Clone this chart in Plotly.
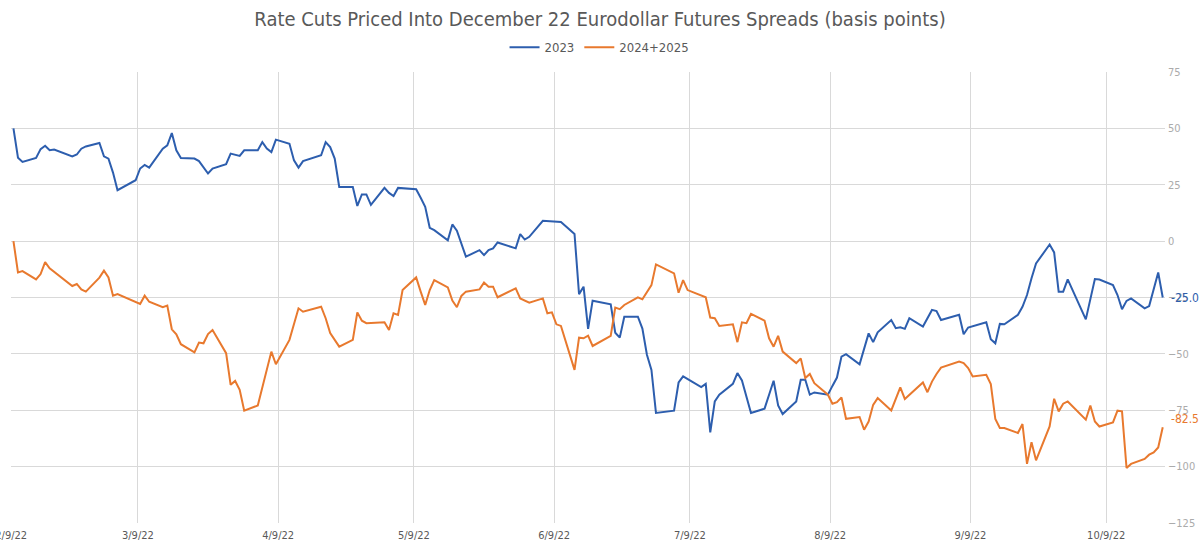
import pandas as pd
import plotly.graph_objects as go

# ---------------- data ----------------
dates_2023 = [
    "2022-02-09", "2022-02-10", "2022-02-11", "2022-02-14", "2022-02-15", "2022-02-16", "2022-02-17", "2022-02-18",
    "2022-02-22", "2022-02-23", "2022-02-24", "2022-02-25", "2022-02-28", "2022-03-01", "2022-03-02", "2022-03-03",
    "2022-03-04", "2022-03-08", "2022-03-09", "2022-03-10", "2022-03-11", "2022-03-14", "2022-03-15", "2022-03-16",
    "2022-03-17", "2022-03-18", "2022-03-21", "2022-03-22", "2022-03-24", "2022-03-25", "2022-03-28", "2022-03-29",
    "2022-03-31", "2022-04-01", "2022-04-04", "2022-04-05", "2022-04-06", "2022-04-07", "2022-04-08", "2022-04-11",
    "2022-04-12", "2022-04-13", "2022-04-14", "2022-04-18", "2022-04-19", "2022-04-20", "2022-04-21", "2022-04-22",
    "2022-04-25", "2022-04-26", "2022-04-27", "2022-04-28", "2022-04-29", "2022-05-02", "2022-05-03", "2022-05-04",
    "2022-05-05", "2022-05-09", "2022-05-10", "2022-05-11", "2022-05-12", "2022-05-13", "2022-05-16", "2022-05-17",
    "2022-05-18", "2022-05-20", "2022-05-23", "2022-05-24", "2022-05-25", "2022-05-26", "2022-05-27", "2022-05-31",
    "2022-06-01", "2022-06-02", "2022-06-03", "2022-06-06", "2022-06-10", "2022-06-13", "2022-06-14", "2022-06-15",
    "2022-06-16", "2022-06-17", "2022-06-21", "2022-06-22", "2022-06-23", "2022-06-24", "2022-06-27", "2022-06-28",
    "2022-06-29", "2022-06-30", "2022-07-01", "2022-07-05", "2022-07-06", "2022-07-07", "2022-07-11", "2022-07-12",
    "2022-07-13", "2022-07-14", "2022-07-15", "2022-07-18", "2022-07-19", "2022-07-20", "2022-07-22", "2022-07-25",
    "2022-07-26", "2022-07-27", "2022-07-28", "2022-07-29", "2022-08-01", "2022-08-02", "2022-08-03", "2022-08-04",
    "2022-08-05", "2022-08-08", "2022-08-09", "2022-08-10", "2022-08-11", "2022-08-12", "2022-08-15", "2022-08-17",
    "2022-08-18", "2022-08-19", "2022-08-22", "2022-08-23", "2022-08-24", "2022-08-25", "2022-08-26", "2022-08-29",
    "2022-08-31", "2022-09-01", "2022-09-02", "2022-09-06", "2022-09-07", "2022-09-08", "2022-09-12", "2022-09-13",
    "2022-09-14", "2022-09-15", "2022-09-16", "2022-09-19", "2022-09-20", "2022-09-21", "2022-09-22", "2022-09-23",
    "2022-09-26", "2022-09-27", "2022-09-28", "2022-09-29", "2022-09-30", "2022-10-04", "2022-10-06", "2022-10-07",
    "2022-10-10", "2022-10-11", "2022-10-12", "2022-10-13", "2022-10-14", "2022-10-17", "2022-10-18", "2022-10-20",
    "2022-10-21",
]
values_2023 = [
    50.0, 37.0, 35.1, 36.9, 40.8, 42.3, 40.3, 40.6,
    37.6, 38.4, 41.0, 42.0, 43.5, 37.6, 36.6, 30.4,
    22.6, 27.0, 32.2, 33.8, 32.6, 41.0, 42.5, 47.9,
    40.3, 36.9, 36.6, 35.5, 30.0, 32.2, 34.1, 38.8,
    37.8, 40.3, 40.3, 43.9, 41.0, 39.5, 45.0, 43.2,
    35.8, 32.6, 35.5, 38.1, 43.9, 41.7, 36.6, 24.0,
    24.0, 15.6, 20.7, 20.7, 16.1, 23.6, 21.4, 20.0,
    23.6, 23.0, 19.2, 15.2, 5.9, 4.9, 0.4, 7.4,
    4.6, -6.9, -4.0, -6.2, -4.0, -3.2, -0.6, -3.2,
    3.1, 0.7, 1.9, 9.0, 8.5, 3.2, -23.5, -20.2,
    -38.9, -26.4, -28.0, -40.6, -42.8, -33.5, -33.5, -38.8,
    -50.4, -57.1, -76.2, -75.2, -62.7, -60.0, -64.7, -63.3,
    -84.8, -71.1, -68.1, -63.3, -58.5, -61.8, -76.2, -74.3,
    -68.1, -61.9, -72.9, -76.7, -71.1, -61.5, -61.5, -68.1,
    -67.1, -68.1, -64.2, -60.5, -51.2, -50.1, -54.6, -40.9,
    -44.8, -40.4, -35.0, -38.6, -38.2, -38.9, -34.2, -37.9,
    -30.5, -31.0, -35.0, -32.7, -41.3, -38.3, -36.0, -43.5,
    -45.3, -36.7, -36.9, -32.7, -29.1, -23.9, -16.5, -9.9,
    -1.5, -5.0, -22.4, -22.4, -17.0, -34.7, -16.8, -17.0,
    -19.5, -23.9, -30.2, -26.5, -25.4, -29.8, -28.8, -13.9,
    -25.0,
]

dates_2425 = [
    "2022-02-09", "2022-02-10", "2022-02-11", "2022-02-14", "2022-02-15", "2022-02-16", "2022-02-17", "2022-02-22",
    "2022-02-23", "2022-02-24", "2022-02-25", "2022-02-28", "2022-03-01", "2022-03-02", "2022-03-03", "2022-03-04",
    "2022-03-09", "2022-03-10", "2022-03-11", "2022-03-14", "2022-03-15", "2022-03-16", "2022-03-17", "2022-03-18",
    "2022-03-21", "2022-03-22", "2022-03-23", "2022-03-24", "2022-03-25", "2022-03-28", "2022-03-29", "2022-03-30",
    "2022-03-31", "2022-04-01", "2022-04-04", "2022-04-06", "2022-04-07", "2022-04-08", "2022-04-11", "2022-04-13",
    "2022-04-14", "2022-04-18", "2022-04-19", "2022-04-20", "2022-04-22", "2022-04-25", "2022-04-26", "2022-04-27",
    "2022-04-28", "2022-05-02", "2022-05-03", "2022-05-04", "2022-05-05", "2022-05-06", "2022-05-09", "2022-05-10",
    "2022-05-11", "2022-05-12", "2022-05-13", "2022-05-16", "2022-05-17", "2022-05-18", "2022-05-19", "2022-05-20",
    "2022-05-23", "2022-05-24", "2022-05-25", "2022-05-26", "2022-05-27", "2022-05-31", "2022-06-01", "2022-06-03",
    "2022-06-06", "2022-06-07", "2022-06-08", "2022-06-09", "2022-06-10", "2022-06-13", "2022-06-14", "2022-06-15",
    "2022-06-16", "2022-06-17", "2022-06-21", "2022-06-22", "2022-06-23", "2022-06-24", "2022-06-27", "2022-06-28",
    "2022-06-29", "2022-06-30", "2022-07-01", "2022-07-05", "2022-07-06", "2022-07-07", "2022-07-08", "2022-07-12",
    "2022-07-13", "2022-07-14", "2022-07-15", "2022-07-18", "2022-07-19", "2022-07-20", "2022-07-21", "2022-07-22",
    "2022-07-25", "2022-07-26", "2022-07-27", "2022-07-28", "2022-07-29", "2022-08-01", "2022-08-02", "2022-08-03",
    "2022-08-04", "2022-08-05", "2022-08-08", "2022-08-09", "2022-08-10", "2022-08-11", "2022-08-12", "2022-08-15",
    "2022-08-16", "2022-08-17", "2022-08-18", "2022-08-19", "2022-08-22", "2022-08-24", "2022-08-25", "2022-08-29",
    "2022-08-30", "2022-08-31", "2022-09-01", "2022-09-02", "2022-09-06", "2022-09-07", "2022-09-08", "2022-09-09",
    "2022-09-12", "2022-09-13", "2022-09-14", "2022-09-15", "2022-09-16", "2022-09-19", "2022-09-20", "2022-09-21",
    "2022-09-22", "2022-09-23", "2022-09-26", "2022-09-27", "2022-09-28", "2022-09-29", "2022-09-30", "2022-10-04",
    "2022-10-05", "2022-10-06", "2022-10-07", "2022-10-10", "2022-10-11", "2022-10-12", "2022-10-13", "2022-10-14",
    "2022-10-17", "2022-10-18", "2022-10-19", "2022-10-20", "2022-10-21",
]
values_2425 = [
    0.0, -13.9, -13.3, -17.0, -14.6, -9.3, -12.1, -19.9,
    -19.0, -21.4, -22.4, -16.2, -13.1, -16.1, -24.2, -23.5,
    -27.9, -24.2, -26.9, -29.3, -28.6, -39.1, -41.3, -45.7,
    -49.3, -45.0, -45.3, -41.2, -39.4, -49.7, -63.7, -62.0,
    -65.9, -75.2, -72.9, -56.3, -49.0, -54.6, -43.8, -29.8,
    -31.3, -29.1, -34.2, -40.8, -46.8, -43.8, -31.6, -35.3,
    -36.4, -36.0, -39.4, -32.0, -32.7, -21.7, -16.1, -22.4,
    -28.3, -21.7, -17.3, -20.5, -26.4, -29.3, -24.3, -22.4,
    -21.4, -18.4, -20.2, -20.2, -24.9, -20.9, -25.4, -27.3,
    -25.4, -32.0, -31.6, -36.9, -37.6, -57.1, -42.8, -43.1,
    -41.9, -46.5, -42.0, -29.5, -30.2, -28.3, -24.9, -25.8,
    -22.9, -19.5, -10.3, -14.3, -22.9, -17.3, -21.7, -24.9,
    -33.9, -34.2, -37.6, -36.9, -44.8, -36.0, -36.4, -32.3,
    -35.3, -43.1, -46.8, -42.0, -49.0, -54.1, -52.0, -60.7,
    -58.9, -63.0, -68.1, -72.1, -71.4, -69.3, -78.8, -78.0,
    -83.6, -80.0, -72.6, -69.6, -75.1, -64.9, -70.0, -62.7,
    -67.0, -62.3, -58.9, -56.1, -53.4, -54.1, -56.3, -60.0,
    -59.3, -63.4, -78.9, -82.9, -82.9, -85.1, -81.1, -98.8,
    -89.2, -97.2, -82.2, -69.9, -75.5, -72.1, -71.1, -79.2,
    -72.9, -80.0, -82.2, -80.4, -75.2, -75.5, -100.6, -98.8,
    -96.6, -94.7, -93.7, -91.5, -82.5,
]

series_names = ["2023", "2024+2025"]
tick_dates = ["2022-02-09", "2022-03-09", "2022-04-09", "2022-05-09", "2022-06-09",
              "2022-07-09", "2022-08-09", "2022-09-09", "2022-10-09"]
tick_labels = ["2/9/22", "3/9/22", "4/9/22", "5/9/22", "6/9/22",
               "7/9/22", "8/9/22", "9/9/22", "10/9/22"]
y_ticks = [75, 50, 25, 0, -25, -50, -75, -100, -125]
title_text = "Rate Cuts Priced Into December 22 Eurodollar Futures Spreads (basis points)"

# ---------------- styling ----------------
BLUE = "#2D5EAE"
ORANGE = "#E8792E"
GRID = "#D9D9D9"
FONT = "DejaVu Sans Condensed, Liberation Sans Narrow, Roboto, sans-serif"

fig = go.Figure()
fig.add_trace(go.Scatter(x=pd.to_datetime(dates_2023), y=values_2023, mode="lines",
                         name=series_names[0], line=dict(color=BLUE, width=2)))
fig.add_trace(go.Scatter(x=pd.to_datetime(dates_2425), y=values_2425, mode="lines",
                         name=series_names[1], line=dict(color=ORANGE, width=2)))

# end-of-series value labels
for d, v, c in [(dates_2023, values_2023, BLUE), (dates_2425, values_2425, ORANGE)]:
    fig.add_annotation(x=pd.to_datetime(d[-1]), y=v[-1], text=f"{v[-1]:.1f}",
                       showarrow=False, xanchor="left", yanchor="middle",
                       xshift=6, yshift=8 if c == ORANGE else 0,
                       font=dict(color=c, size=12, family=FONT))

# Excel date axis: gridlines sit on day-bucket boundaries (half a day before the point)
tickvals = pd.to_datetime(tick_dates) - pd.Timedelta(hours=12)
x_start = pd.to_datetime(tick_dates[0]) - pd.Timedelta(hours=13)
x_end = pd.to_datetime(dates_2023[-1]) + pd.Timedelta(hours=12)

fig.update_layout(
    width=1200, height=548,
    margin=dict(l=11, r=35, t=72, b=25, autoexpand=False),
    paper_bgcolor="white", plot_bgcolor="white",
    font=dict(family=FONT, color="#595959"),
    title=dict(text=title_text, x=0.5, xref="container", xanchor="center",
               y=1 - 19 / 548, yref="container", yanchor="middle",
               font=dict(size=20, color="#595959", family=FONT)),
    legend=dict(orientation="h", x=0.51, xanchor="center", y=1.055, yanchor="middle",
                font=dict(size=13, color="#595959", family=FONT),
                itemwidth=30, traceorder="normal", bgcolor="rgba(0,0,0,0)"),
    showlegend=True,
    xaxis=dict(type="date", range=[x_start, x_end], tickvals=tickvals, ticktext=tick_labels,
               showgrid=True, gridcolor=GRID, gridwidth=1, zeroline=False,
               showline=False, ticks="", ticklabeloverflow="allow", automargin=False,
               ticklabelstandoff=4,
               tickfont=dict(size=11, color="#595959", family=FONT)),
    yaxis=dict(side="right", range=[-125, 75], tickvals=y_ticks, automargin=False,
               showgrid=True, gridcolor=GRID, gridwidth=1, zeroline=False,
               showline=False, ticks="", ticklabelstandoff=2, ticklabeloverflow="allow",
               tickfont=dict(size=11, color="#ABABAB", family=FONT)),
)

fig.write_html("out.html")
